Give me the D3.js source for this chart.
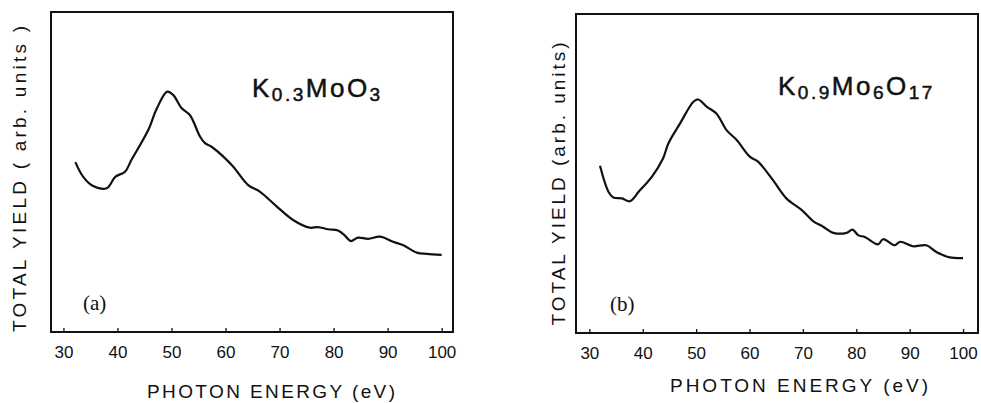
<!DOCTYPE html>
<html>
<head>
<meta charset="utf-8">
<script src="https://cdn.jsdelivr.net/npm/d3@7"></script>
<style>
  body { margin: 0; background: #fff; }
  text { font-family: "Liberation Sans", Arial, sans-serif; fill: #111; }
</style>
</head>
<body>
<svg width="981" height="403"></svg>
<script>
// data (photon energy in eV, yield in arbitrary units 0-10)
const xTicks = [30, 40, 50, 60, 70, 80, 90, 100];

const energyA = [32.2, 33.7, 35.5, 38.0, 39.6, 41.4, 42.6, 45.7, 47.3, 49.2, 50.3, 51.9, 53.4, 55.3, 56.2, 57.4,
  59.6, 61.4, 64.2, 66.4, 69.5, 72.5, 75.6, 77.1, 79.0, 80.8, 82.0, 83.2, 84.5, 86.4, 88.6, 91.0, 92.9, 95.4, 97.2, 100];
const yieldA = [5.31, 4.84, 4.56, 4.49, 4.85, 5.01, 5.38, 6.31, 6.99, 7.51, 7.41, 6.99, 6.78, 6.10, 5.90, 5.79,
  5.48, 5.17, 4.59, 4.38, 3.92, 3.50, 3.26, 3.28, 3.21, 3.17, 3.03, 2.84, 2.95, 2.91, 2.98, 2.82, 2.71, 2.48, 2.44, 2.41];

const energyB = [32.0, 33.6, 34.5, 36.1, 37.6, 39.2, 41.8, 43.8, 44.8, 47.0, 49.5, 50.4, 52.0, 53.8, 55.7, 57.6,
  60.1, 61.6, 64.4, 66.9, 69.8, 71.9, 73.8, 75.7, 78.2, 79.3, 80.4, 81.6, 84.1, 85.0, 87.2, 88.2, 90.6, 93.1, 95.0, 97.5, 100];
const yieldB = [5.24, 4.42, 4.25, 4.22, 4.13, 4.42, 4.92, 5.47, 5.94, 6.57, 7.25, 7.32, 7.09, 6.88, 6.36, 6.05,
  5.52, 5.37, 4.79, 4.22, 3.85, 3.51, 3.33, 3.14, 3.14, 3.24, 3.06, 3.01, 2.78, 2.94, 2.75, 2.86, 2.72, 2.75, 2.54, 2.37, 2.35];

const svg = d3.select("svg");

// one framed panel
function panel(p) {
  const x = d3.scaleLinear().domain(p.xDomain).range([p.left, p.right]);
  const y = d3.scaleLinear().domain([0, 10]).range([p.bottom, p.top]);
  const g = svg.append("g");

  g.append("rect")
    .attr("x", p.left).attr("y", p.top)
    .attr("width", p.right - p.left).attr("height", p.bottom - p.top)
    .attr("fill", "none").attr("stroke", "#111").attr("stroke-width", 2);

  const ax = g.append("g")
    .attr("transform", "translate(0," + p.bottom + ")")
    .call(d3.axisBottom(x).tickValues(xTicks).tickSizeInner(-4).tickSizeOuter(0).tickPadding(14));
  ax.select(".domain").remove();
  ax.selectAll("line").attr("stroke", "#111").attr("stroke-width", 1.3);
  ax.selectAll("text").style("font-size", "17px").attr("fill", "#111");

  const pts = p.energy.map((e, i) => [e, p.yld[i]]);
  g.append("path")
    .datum(pts)
    .attr("fill", "none")
    .attr("stroke", "#111")
    .attr("stroke-width", 2.2)
    .attr("stroke-linejoin", "round")
    .attr("d", d3.line().x(d => x(d[0])).y(d => y(d[1])).curve(d3.curveCatmullRom));

  // axis titles
  g.append("text")
    .attr("x", p.xTitle[0]).attr("y", p.xTitle[1])
    .attr("text-anchor", "middle")
    .attr("textLength", p.xTitle[2]).attr("lengthAdjust", "spacing")
    .style("font-size", "19px")
    .text("PHOTON ENERGY (eV)");

  g.append("text")
    .attr("transform", "translate(" + p.yTitle[0] + "," + p.yTitle[1] + ") rotate(-90)")
    .attr("text-anchor", "middle")
    .attr("textLength", p.yTitle[2]).attr("lengthAdjust", "spacing")
    .style("font-size", "19px")
    .text(p.yText);

  // panel letter
  g.append("text")
    .attr("x", p.letter[0]).attr("y", p.letter[1])
    .style("font-family", "'Liberation Serif', 'Times New Roman', serif")
    .style("font-size", "21px")
    .text(p.letter[2]);

  // chemical formula
  const f = g.append("text")
    .attr("x", p.formula[0]).attr("y", p.formula[1])
    .style("font-size", "26px")
    .style("letter-spacing", "2.5px")
    .attr("stroke", "#111").attr("stroke-width", 0.5);
  p.parts.forEach(s => {
    f.append("tspan")
      .attr("dy", s.sub ? 4 : -4)
      .style("font-size", s.sub ? "19px" : "26px")
      .text(s.t);
  });
  f.select("tspan").attr("dy", 0);
}

panel({
  left: 51, right: 453, top: 12, bottom: 332,
  xDomain: [27.7, 102.1],
  energy: energyA, yld: yieldA,
  xTitle: [271, 398, 248],
  yTitle: [26, 179, 306],
  yText: "TOTAL YIELD ( arb. units )",
  letter: [83, 310, "(a)"],
  formula: [252, 97],
  parts: [{t: "K"}, {t: "0.3", sub: true}, {t: "MoO"}, {t: "3", sub: true}]
});

panel({
  left: 576, right: 978, top: 14, bottom: 333,
  xDomain: [27.5, 102.8],
  energy: energyB, yld: yieldB,
  xTitle: [799, 392, 258],
  yTitle: [565, 184, 283],
  yText: "TOTAL YIELD (arb. units)",
  letter: [610, 311, "(b)"],
  formula: [778, 95],
  parts: [{t: "K"}, {t: "0.9", sub: true}, {t: "Mo"}, {t: "6", sub: true}, {t: "O"}, {t: "17", sub: true}]
});
</script>
</body>
</html>
